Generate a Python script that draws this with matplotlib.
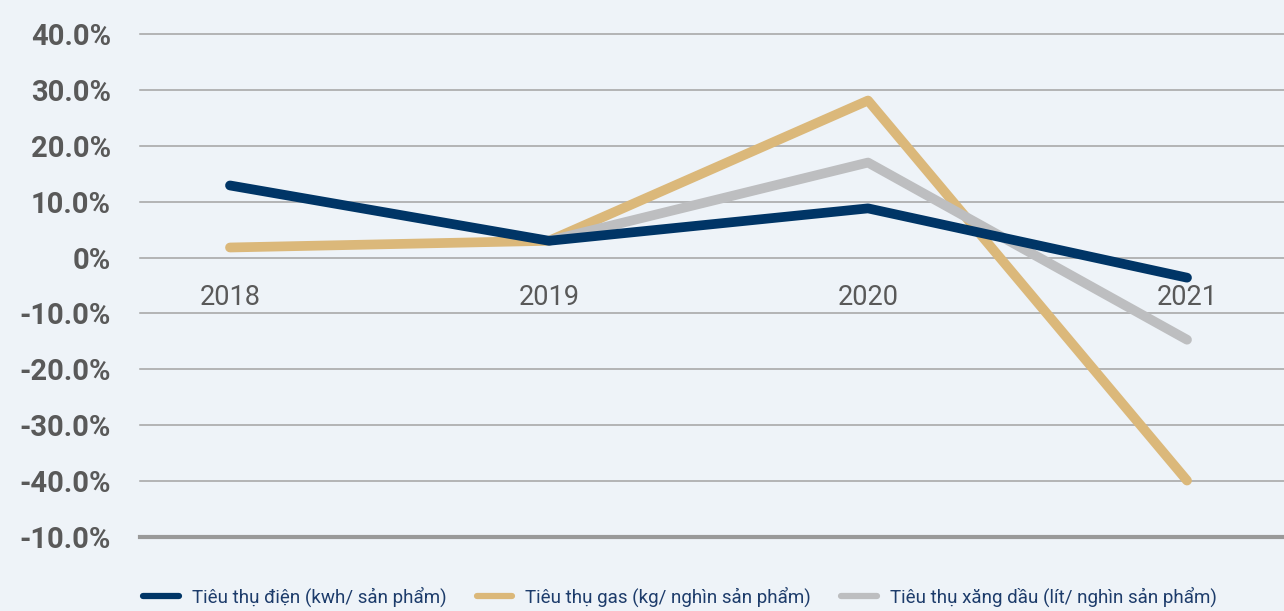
import matplotlib
matplotlib.use('Agg')
import matplotlib.pyplot as plt
import numpy as np

# Data (% change)
years = ['2018', '2019', '2020', '2021']
dien = [12.9, 3.0, 8.8, -3.6]
gas = [1.8, 3.0, 28.1, -39.9]
xang = [np.nan, 3.0, 17.0, -14.7]
labels = ['Tiêu thụ điện (kwh/ sản phẩm)',
          'Tiêu thụ gas (kg/ nghìn sản phẩm)',
          'Tiêu thụ xăng dầu (lít/ nghìn sản phẩm)']
y_ticks = [40, 30, 20, 10, 0, -10, -20, -30, -40, -50]
y_tick_labels = ['40.0%', '30.0%', '20.0%', '10.0%', '0%', '-10.0%',
                 '-20.0%', '-30.0%', '-40.0%', '-10.0%']

navy = '#003566'
gold = '#dbb87a'
grey = '#bdbec0'

fig = plt.figure(figsize=(12.84, 6.11), dpi=100, facecolor='#eef3f8')
ax = fig.add_axes([140 / 1284, 1 - 537 / 611, 1 - 140 / 1284, (537 - 34) / 611])
ax.set_facecolor('none')

x = np.arange(len(years))
lw = 7
ax.plot(x, gas, color=gold, lw=lw, solid_capstyle='round', label=labels[1], zorder=3)
ax.plot(x, xang, color=grey, lw=lw, solid_capstyle='round', label=labels[2], zorder=4)
ax.plot(x, dien, color=navy, lw=lw, solid_capstyle='round', label=labels[0], zorder=5)

ax.set_ylim(-50, 40)
ax.set_xlim(-90 / 319, 3 + 97 / 319)

ax.set_yticks(y_ticks)
ax.set_yticklabels(y_tick_labels)
for t in ax.get_yticklabels():
    t.set_fontweight('bold')
    t.set_fontsize(21)
    t.set_color('#595959')
    t.set_family('Roboto')
ax.tick_params(axis='y', length=0, pad=21)

for v in y_ticks[:-1]:
    ax.axhline(v, color='#a3a3a3', lw=1.1, zorder=1)
ax.axhline(-50, color='#999999', lw=3, zorder=1, clip_on=False)

# year labels sit just under the zero line
ax.spines['bottom'].set_position(('data', 0))
for s in ax.spines.values():
    s.set_visible(False)
ax.set_xticks(x)
ax.set_xticklabels(years)
ax.tick_params(axis='x', length=0, pad=19, labelsize=19.5, labelcolor='#595959')
for t in ax.get_xticklabels():
    t.set_family('Roboto')

for line in ax.get_lines():
    line.set_clip_on(False)

handles, labs = ax.get_legend_handles_labels()
order = [2, 0, 1]
leg = fig.legend([handles[i] for i in order], [labs[i] for i in order],
                 loc='center', bbox_to_anchor=(680 / 1284, 1 - 597 / 611), ncol=3,
                 frameon=False, handlelength=1.9, handletextpad=0.7, columnspacing=1.6,
                 prop={'family': 'Roboto', 'size': 13.5})
for t in leg.get_texts():
    t.set_color('#1d3c6b')
for h in leg.legend_handles:
    h.set_linewidth(4.5)

fig.savefig('out.png', dpi=100, facecolor=fig.get_facecolor())
